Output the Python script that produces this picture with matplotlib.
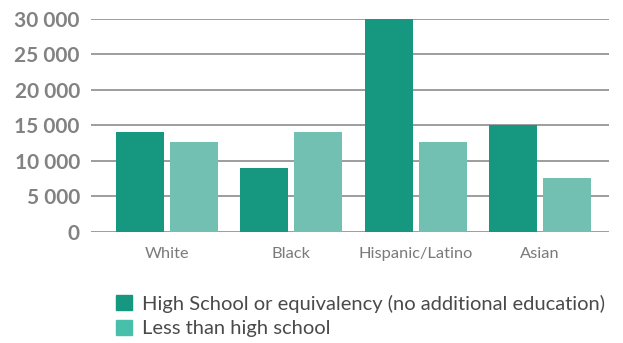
import matplotlib.pyplot as plt
import numpy as np
from matplotlib.patches import Patch

categories = ['White', 'Black', 'Hispanic/Latino', 'Asian']
high_school = [14000, 9000, 30000, 15000]
less_than_hs = [12700, 14000, 12700, 7600]
yticks = [0, 5000, 10000, 15000, 20000, 25000, 30000]
series_names = ['High School or equivalency (no additional education)',
                'Less than high school']

dark = '#16977f'
light = '#72c0b2'
light_key = '#47bfaa'

plt.rcParams['font.family'] = ['Lato', 'DejaVu Sans']

fig = plt.figure(figsize=(6.23, 3.43), dpi=100)
ax = fig.add_axes([0.146, 0.325, 0.8315, 0.6196])

x = np.arange(len(categories))
w = 0.386
off = 0.217
ax.bar(x - off, high_school, w, color=dark, zorder=3)
ax.bar(x + off, less_than_hs, w, color=light, zorder=3)

ax.set_xlim(-0.61, 3.554)
ax.set_ylim(0, 30000)
ax.set_yticks(yticks)
ax.set_yticklabels([f'{v:,}'.replace(',', ' ') for v in yticks],
                   fontsize=15, fontweight='bold', color='#828282')
ax.set_xticks(x)
ax.set_xticklabels(categories, fontsize=11.8, color='#7a7a7a')
ax.tick_params(axis='both', length=0)
ax.tick_params(axis='y', pad=8)
ax.tick_params(axis='x', pad=11)
ax.grid(axis='y', color='#8c8c8c', linewidth=1.2, zorder=0)
for s in ax.spines.values():
    s.set_visible(False)

handles = [Patch(color=dark), Patch(color=light_key)]
fig.legend(handles, series_names, loc='upper left',
           bbox_to_anchor=(0.17, 0.17), frameon=False,
           fontsize=14.5, labelcolor='#4a4a4a',
           handlelength=0.78, handleheight=0.78, handletextpad=0.5,
           labelspacing=0.35, borderpad=0)

fig.savefig('out.png', dpi=100)
